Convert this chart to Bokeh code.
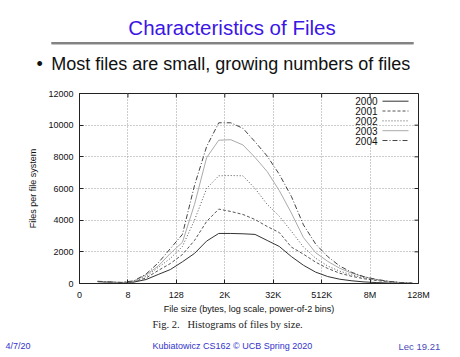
from bokeh.plotting import figure
from bokeh.models import Range1d, FixedTicker, Label, Arrow
from bokeh.embed import file_html
from bokeh.resources import INLINE

# ---- data: power-of-2 bins (log2 of bin lower bound) ----
bins = list(range(27))
y2000 = [120, 80, 50, 90, 250, 570, 880, 1370, 1900, 2680, 3160, 3160, 3140, 3100, 2720, 2340,
         1700, 1150, 720, 440, 270, 170, 100, 60, 30, 15, 5]
y2001 = [120, 80, 50, 110, 350, 820, 1260, 1830, 2720, 3920, 4700, 4550, 4360, 4040, 3600, 3220,
         2300, 1850, 1350, 950, 650, 450, 300, 190, 110, 50, 20]
y2002 = [130, 90, 60, 130, 450, 1010, 1580, 2340, 4000, 6000, 6800, 6820, 6800, 6000, 5000, 4250,
         3300, 2300, 1600, 1100, 780, 540, 360, 230, 130, 60, 20]
y2003 = [130, 90, 60, 150, 550, 1100, 1900, 2600, 5000, 7950, 9050, 9080, 8750, 7960, 7070, 5870,
         4450, 2900, 1950, 1400, 960, 650, 420, 260, 140, 60, 20]
y2004 = [140, 100, 70, 170, 600, 1300, 2200, 3100, 6200, 8650, 10150, 10150, 9800, 8950, 8050, 6900,
         5500, 3700, 2500, 1700, 1100, 700, 430, 260, 140, 60, 20]
years = ["2000", "2001", "2002", "2003", "2004"]
series = [y2000, y2001, y2002, y2003, y2004]

x_tick_pos = [-1, 3, 7, 11, 15, 19, 23, 27]
x_tick_labels = ["0", "8", "128", "2K", "32K", "512K", "8M", "128M"]
y_ticks = [0, 2000, 4000, 6000, 8000, 10000, 12000]

styles = [
    dict(line_color="#333333", line_dash="solid"),
    dict(line_color="#555555", line_dash="3 2"),
    dict(line_color="#555555", line_dash="1 2"),
    dict(line_color="#aaaaaa", line_dash="solid"),
    dict(line_color="#444444", line_dash="5 2 1 2"),
]

FONT = "Liberation Sans"
W, H = 458, 355
FL, FT, FW, FH = 79, 93, 339, 190  # chart frame in page pixels
X0, X1, Y0, Y1 = -1, 27, 0, 12000

p = figure(frame_width=FW, frame_height=FH, output_backend="svg", toolbar_location=None,
           x_range=Range1d(X0, X1), y_range=Range1d(Y0, Y1),
           min_border_left=FL, min_border_top=FT,
           min_border_right=W - FL - FW, min_border_bottom=H - FT - FH)
p.background_fill_color = "white"
p.border_fill_color = "white"
p.outline_line_color = "#222222"
p.outline_line_width = 1


def dx(px):
    return X0 + (px - FL) * (X1 - X0) / FW


def dy(py):
    return (FT + FH - py) * (Y1 - Y0) / FH


for ax in (p.xaxis[0], p.yaxis[0]):
    ax.major_tick_in = 4
    ax.major_tick_out = 0
    ax.minor_tick_line_color = None
    ax.axis_line_color = "#222222"
    ax.major_tick_line_color = "#222222"
    ax.major_label_text_font = FONT
    ax.major_label_text_font_size = "9px"
    ax.major_label_text_color = "#111111"
    ax.axis_label_text_font = FONT
    ax.axis_label_text_font_size = "9px"
    ax.axis_label_text_font_style = "normal"
    ax.axis_label_text_color = "#111111"

p.xaxis.ticker = FixedTicker(ticks=x_tick_pos)
p.xaxis.major_label_overrides = {t: l for t, l in zip(x_tick_pos, x_tick_labels)}
p.xaxis.major_label_standoff = 6
p.xaxis.axis_label = "File size (bytes, log scale, power-of-2 bins)"
p.xaxis.axis_label_standoff = 1
p.yaxis.ticker = FixedTicker(ticks=y_ticks)
p.yaxis.major_label_standoff = 6
p.yaxis.axis_label = "Files per file system"
p.yaxis.axis_label_standoff = 7

p.xgrid.ticker = FixedTicker(ticks=x_tick_pos[1:-1])
p.ygrid.ticker = FixedTicker(ticks=y_ticks[1:-1])
for g in (p.xgrid[0], p.ygrid[0]):
    g.grid_line_color = "#9a9a9a"
    g.grid_line_dash = "1 2"
    g.grid_line_width = 1

# mirrored inward ticks on the top and right edges (gnuplot style)
tick_dx = 4 * (X1 - X0) / FW
tick_dy = 4 * (Y1 - Y0) / FH
p.segment(x0=x_tick_pos, y0=[Y1] * len(x_tick_pos), x1=x_tick_pos, y1=[Y1 - tick_dy] * len(x_tick_pos),
          line_color="#222222", line_width=1)
p.segment(x0=[X1] * len(y_ticks), y0=y_ticks, x1=[X1 - tick_dx] * len(y_ticks), y1=y_ticks,
          line_color="#222222", line_width=1)

# curves: each bin drawn at its centre on the log2 axis
xc = [b + 0.5 for b in bins]
for ys, st in zip(series, styles):
    p.line(xc, ys, line_width=1, **st)

# legend (gnuplot style: label then line sample)
for i, (yr, st) in enumerate(zip(years, styles)):
    yy = dy(100.7 + i * 9.83)
    p.add_layout(Label(x=dx(377), y=yy, text=yr, text_align="right", text_baseline="middle",
                       text_font=FONT, text_font_size="10px", text_color="#111111"))
    p.add_layout(Arrow(x_start=dx(382), x_end=dx(408), y_start=yy, y_end=yy, start=None, end=None,
                       line_width=1, **st))


# ---- slide texts, placed in the side panels so they are not clipped to the frame ----
BASELINE_SHIFT = 0.46  # observed offset (in em) of Bokeh's alphabetic baseline placement


def page_label(side, px, py, text, size, color, font=FONT, align="left"):
    s = float(size.replace("px", ""))
    p.add_layout(Label(x=dx(px), y=dy(py - BASELINE_SHIFT * s), text=text, text_align=align,
                       text_baseline="alphabetic", text_font=font, text_font_size=size,
                       text_color=color), side)


page_label("above", 231.5, 36.5, "Characteristics of Files", "20.5px", "#3b16e6", align="center")

# rule under the slide title: a padded, filled label box (dark line plus light shadow)
if "padding" in Label.properties():
    for yc, fs, col in ((42.5, "1.5px", "#5a5a5a"), (44.0, "1px", "#c4c4c4")):
        rule = Label(x=dx(232), y=dy(yc), text=" ", text_align="center", text_baseline="middle",
                     text_font=FONT, text_font_size=fs, text_color=col,
                     background_fill_color=col, background_fill_alpha=1)
        try:
            rule.padding = dict(left=181, right=181, top=0, bottom=0)
        except Exception:
            rule.padding = (181, 181, 0, 0)
        p.add_layout(rule, "above")

page_label("above", 36, 72, "\u2022", "18px", "#111111")
page_label("above", 50.7, 72, "Most files are small, growing numbers of files", "18px", "#111111")
page_label("above", 5, 350, "4/7/20", "9px", "#3333cc")
page_label("below", 152, 329, "Fig. 2.", "10.5px", "#222222", font="Liberation Serif")
page_label("below", 187, 329, "Histograms of files by size.", "10.5px", "#222222", font="Liberation Serif")
page_label("below", 152, 350, "Kubiatowicz CS162 \u00a9 UCB Spring 2020", "9px", "#3333cc")
page_label("below", 398, 350, "Lec 19.21", "9.5px", "#4a4ab8")

open("out.html", "w").write(file_html(p, INLINE))
